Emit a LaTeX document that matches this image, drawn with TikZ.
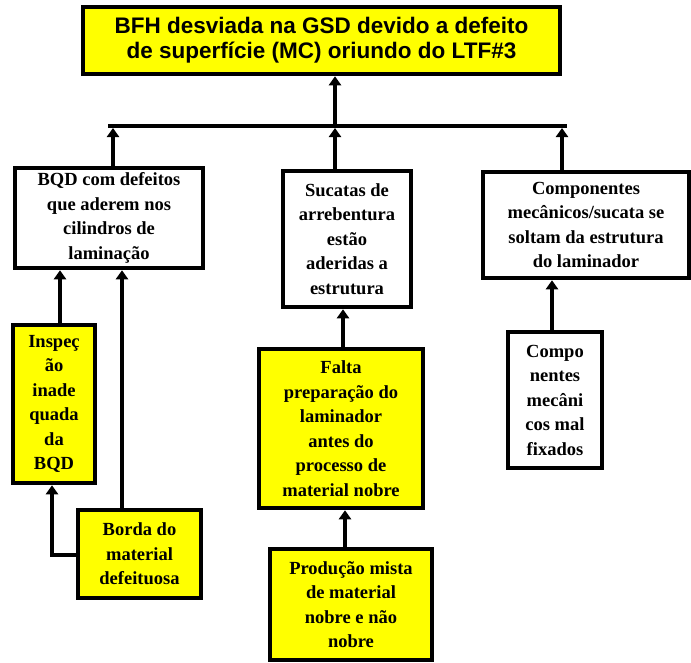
\documentclass[tikz,border=0pt]{standalone}
\usepackage{fontspec}
\setmainfont{Liberation Serif}
\newfontfamily\headfont{Liberation Sans}
\usetikzlibrary{arrows.meta}
\definecolor{boxyellow}{RGB}{255,255,0}
\tikzset{
  box/.style={draw=black, line width=4.5pt, align=center, inner sep=2pt,
    font=\bfseries\fontsize{18.5}{24.5}\selectfont},
  ybox/.style={box, fill=boxyellow},
  wbox/.style={box, fill=white},
  arr/.style={line width=4.5pt, -{Triangle[length=9pt,width=12pt]}},
  plain/.style={line width=4.5pt}
}
\begin{document}
\begin{tikzpicture}[x=1pt,y=-1pt]
\useasboundingbox (0,0) rectangle (691,662);
\node[ybox, minimum width=477pt, minimum height=67pt,
  font=\headfont\bfseries\fontsize{22.5}{25}\selectfont] (top) at (321.5,40.5)
  {BFH desviada na GSD devido a defeito\\de superfície (MC) oriundo do LTF\#3};
\node[wbox, minimum width=188pt, minimum height=100pt] (b1) at (109,218)
  {BQD com defeitos\\que aderem nos\\cilindros de\\laminação};
\node[wbox, minimum width=128pt, minimum height=136pt] (b2) at (347,239)
  {Sucatas de\\arrebentura\\estão\\aderidas a\\estrutura};
\node[wbox, minimum width=206pt, minimum height=106pt] (b3) at (586,225)
  {Componentes\\mecânicos/sucata se\\soltam da estrutura\\do laminador};
\node[ybox, minimum width=82pt, minimum height=158pt] (insp) at (54,404)
  {Inspeç\\ão\\inade\\quada\\da\\BQD};
\node[ybox, minimum width=123pt, minimum height=88pt] (borda) at (139.5,554)
  {Borda do\\material\\defeituosa};
\node[ybox, minimum width=164pt, minimum height=159pt] (falta) at (341,428.5)
  {Falta\\preparação do\\laminador\\antes do\\processo de\\material nobre};
\node[ybox, minimum width=162pt, minimum height=111pt] (prod) at (351,604.5)
  {Produção mista\\de material\\nobre e não\\nobre};
\node[wbox, minimum width=94pt, minimum height=136pt] (compo) at (555,400)
  {Compo\\nentes\\mecâni\\cos mal\\fixados};
% bus
\coordinate (busL) at (108,126);
\coordinate (busR) at (567,126);
\coordinate (hub) at (335,126);
\coordinate (a1) at (113,128);
\coordinate (a2) at (335,128);
\coordinate (a3) at (562,128);
\draw[plain] (busL) -- (busR);
\draw[arr] (hub) -- (top.south -| hub);
\draw[arr] (b1.north -| a1) -- (a1);
\draw[arr] (b2.north -| a2) -- (a2);
\draw[arr] (b3.north -| a3) -- (a3);
% lower connectors
\coordinate (x1) at (60,0);
\coordinate (x2) at (122,0);
\coordinate (x3) at (343,0);
\coordinate (x4) at (345,0);
\coordinate (x5) at (552,0);
\coordinate (elb) at (52,555);
\draw[arr] (insp.north -| x1) -- (b1.south -| x1);
\draw[arr] (borda.north -| x2) -- (b1.south -| x2);
\draw[arr] (falta.north -| x3) -- (b2.south -| x3);
\draw[arr] (prod.north -| x4) -- (falta.south -| x4);
\draw[arr] (compo.north -| x5) -- (b3.south -| x5);
\draw[arr] (borda.west |- elb) -- (elb) -- (insp.south -| elb);
\end{tikzpicture}
\end{document}
